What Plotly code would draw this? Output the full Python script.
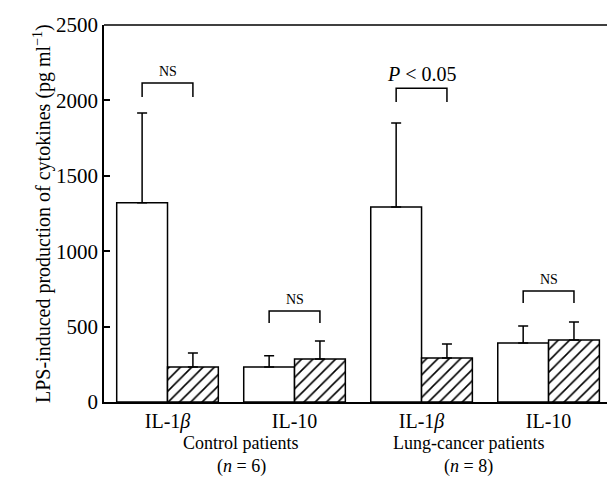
import plotly.graph_objects as go

# ---- data ----
categories = ["IL-1<i>β</i>", "IL-10", "IL-1<i>β</i>", "IL-10"]
positions = [0, 1, 2, 3]
white_vals = [1322, 232, 1293, 391]
white_err = [594, 75, 557, 113]
hatched_vals = [232, 285, 292, 411]
hatched_err = [93, 120, 93, 119]
group_labels = ["Control patients", "Lung-cancer patients"]
group_n = ["(<i>n</i> = 6)", "(<i>n</i> = 8)"]
group_label_x = [0.58, 2.37]
# significance brackets: (left x, right x, top y, end y, text)
brackets = [
    (-0.2, 0.2, 2115, 2022, "NS"),
    (0.8, 1.2, 603, 524, "NS"),
    (1.8, 2.2, 2080, 1990, "<i>P</i> < 0.05"),
    (2.8, 3.2, 736, 656, "NS"),
]

FONT = "Liberation Serif"

fig = go.Figure()
fig.add_trace(go.Bar(
    x=positions, y=white_vals,
    marker=dict(color="white", line=dict(color="black", width=1.5)),
    error_y=dict(type="data", symmetric=False, array=white_err,
                 arrayminus=[0] * len(white_err), color="black",
                 thickness=1.5, width=5),
    showlegend=False,
))
fig.add_trace(go.Bar(
    x=positions, y=hatched_vals,
    marker=dict(color="white", line=dict(color="black", width=1.5),
                pattern=dict(shape="/", fgcolor="black", bgcolor="white",
                             size=8, solidity=0.2, fgopacity=1)),
    error_y=dict(type="data", symmetric=False, array=hatched_err,
                 arrayminus=[0] * len(hatched_err), color="black",
                 thickness=1.5, width=5),
    showlegend=False,
))

for (x0, x1, ytop, yend, txt) in brackets:
    fig.add_shape(type="path",
                  path=f"M {x0} {yend} L {x0} {ytop} L {x1} {ytop} L {x1} {yend}",
                  line=dict(color="black", width=1.5))
    big = "P" in txt
    fig.add_annotation(x=(x0 + x1) / 2, y=ytop, text=txt, showarrow=False,
                       yanchor="bottom", yshift=1 if big else 2,
                       font=dict(family=FONT, size=20 if big else 14, color="black"))

# top frame line
fig.add_shape(type="line", xref="paper", yref="paper", x0=0, x1=1, y0=1, y1=1,
              line=dict(color="black", width=1.5))

for gx, gl, gn in zip(group_label_x, group_labels, group_n):
    fig.add_annotation(x=gx, y=0, yref="paper", text=gl, showarrow=False,
                       yanchor="middle", yshift=-41,
                       font=dict(family=FONT, size=18, color="black"))
    fig.add_annotation(x=gx, y=0, yref="paper", text=gn, showarrow=False,
                       yanchor="middle", yshift=-64,
                       font=dict(family=FONT, size=18, color="black"))

fig.add_annotation(x=0, y=0.5, xref="paper", yref="paper",
                   text="LPS-induced production of cytokines (pg ml<sup>−1</sup>)",
                   textangle=-90, showarrow=False, xshift=-76,
                   font=dict(family=FONT, size=20, color="black"))

fig.update_layout(
    width=607, height=484,
    margin=dict(l=104, r=0, t=25, b=82),
    paper_bgcolor="white", plot_bgcolor="white",
    barmode="group", bargap=0.2, bargroupgap=0,
    font=dict(family=FONT, color="black"),
    xaxis=dict(range=[-0.5, 3.46], tickvals=positions, ticktext=categories,
               showline=True, mirror=False, linecolor="black", linewidth=1.5,
               ticks="", showgrid=False, zeroline=False,
               tickfont=dict(family=FONT, size=20, color="black")),
    yaxis=dict(range=[0, 2500], tickvals=[0, 500, 1000, 1500, 2000, 2500],
               showline=True, mirror=False, linecolor="black", linewidth=1.5,
               ticks="inside", ticklen=6, tickcolor="black", tickwidth=1.5,
               showgrid=False, zeroline=False,
               tickfont=dict(family=FONT, size=21, color="black")),
)

fig.write_html("out.html", config={"displayModeBar": False},
               post_script="document.body.style.margin='0';document.documentElement.style.overflow='hidden';")
